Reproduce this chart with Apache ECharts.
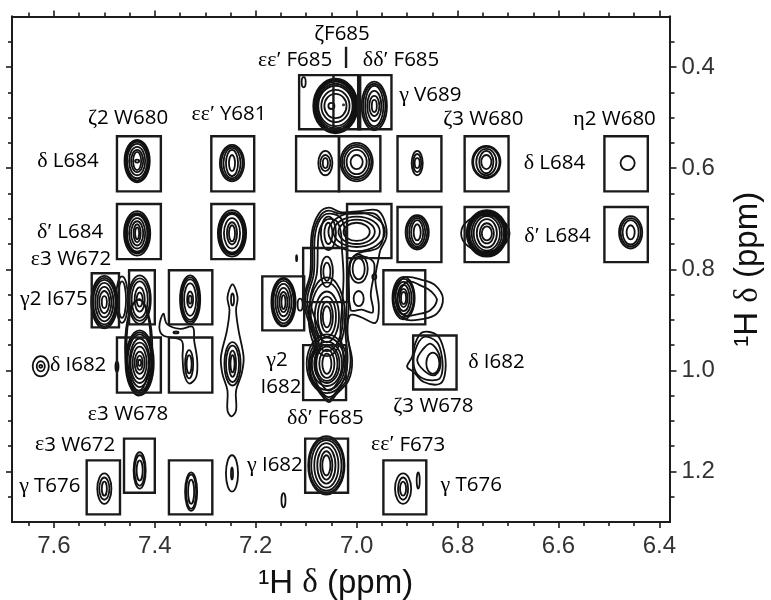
<!DOCTYPE html>
<html><head><meta charset="utf-8">
<style>html,body{margin:0;padding:0;background:#fff}#c{width:771px;height:600px}</style>
<script src="https://cdn.jsdelivr.net/npm/echarts@6/dist/echarts.min.js"></script>
</head><body><div id="c"></div>
<script>
const xMajor=[7.6,7.4,7.2,7.0,6.8,6.6,6.4];
const xMinor=[7.65,7.55,7.5,7.45,7.35,7.3,7.25,7.15,7.1,7.05,6.95,6.9,6.85,6.75,6.7,6.65,6.55,6.5,6.45];
const yMajor=[0.4,0.6,0.8,1.0,1.2];
const yMinor=[0.35,0.45,0.5,0.55,0.65,0.7,0.75,0.85,0.9,0.95,1.05,1.1,1.15,1.25];

// peak contours: [x ppm, y ppm, half-width ppm, half-height ppm]
const peakContours=[
[7.435,.586,.025,.042],[7.435,.586,.023,.040],[7.435,.586,.022,.038],[7.435,.586,.020,.034],[7.435,.586,.016,.028],[7.435,.586,.012,.022],[7.435,.586,.008,.018],[7.435,.586,.004,.003],
[7.247,.590,.024,.036],[7.247,.590,.021,.033],[7.247,.590,.017,.030],[7.247,.590,.012,.026],[7.247,.590,.006,.016],
[7.062,.590,.014,.024],[7.062,.590,.010,.016],[7.062,.590,.005,.010],
[7.000,.588,.032,.038],[7.000,.588,.029,.034],[7.000,.588,.025,.030],[7.000,.588,.020,.024],[7.000,.588,.012,.014],
[7.435,.729,.026,.044],[7.435,.729,.024,.040],[7.435,.729,.022,.038],[7.435,.729,.020,.036],[7.435,.729,.016,.030],[7.435,.729,.012,.024],[7.435,.729,.007,.018],[7.435,.729,.004,.012],
[7.247,.729,.028,.046],[7.247,.729,.026,.042],[7.247,.729,.024,.040],[7.247,.729,.022,.038],[7.247,.729,.016,.030],[7.247,.729,.010,.022],[7.247,.729,.006,.016],
[7.042,.477,.044,.054],[7.042,.477,.042,.052],[7.042,.477,.040,.050],[7.042,.477,.038,.048],[7.042,.477,.036,.044],[7.042,.477,.034,.040],[7.042,.477,.028,.032],[7.042,.477,.022,.024],
[7.050,.477,.006,.006],[7.026,.475,.001,.001],
[6.965,.477,.025,.048],[6.965,.477,.022,.044],[6.965,.477,.018,.040],[6.965,.477,.014,.030],[6.965,.477,.010,.020],[6.965,.477,.005,.012],
[7.105,.430,.004,.010],
[6.880,.590,.011,.024],[6.880,.590,.008,.018],[6.880,.590,.005,.010],
[6.743,.588,.028,.032],[6.743,.588,.026,.030],[6.743,.588,.020,.026],[6.743,.588,.014,.022],[6.743,.588,.010,.014],
[6.463,.590,.014,.014],
[6.880,.727,.023,.034],[6.880,.727,.020,.031],[6.880,.727,.016,.028],[6.880,.727,.012,.024],[6.880,.727,.007,.016],
[6.745,.729,.048,.036],[6.742,.729,.040,.046],[6.742,.729,.038,.044],[6.742,.729,.036,.042],[6.742,.729,.034,.040],[6.742,.729,.030,.038],[6.742,.729,.026,.034],[6.742,.729,.020,.028],[6.742,.729,.014,.020],[6.742,.729,.010,.014],
[6.457,.727,.023,.032],[6.457,.727,.020,.028],[6.457,.727,.016,.024],[6.457,.727,.008,.014],
[7.500,.865,.026,.052],[7.500,.865,.024,.048],[7.500,.865,.022,.044],[7.500,.865,.018,.038],[7.500,.865,.014,.030],[7.500,.865,.010,.022],[7.500,.865,.005,.012],
[7.465,.860,.012,.046],[7.465,.860,.008,.036],
[7.430,.860,.022,.048],[7.430,.860,.020,.042],[7.430,.860,.016,.036],[7.430,.860,.010,.024],[7.430,.860,.006,.014],[7.430,.860,.001,.001],
[7.330,.860,.020,.048],[7.330,.860,.018,.044],[7.330,.860,.016,.040],[7.330,.860,.012,.032],[7.330,.860,.006,.016],[7.330,.860,.003,.008],
[7.432,.955,.027,.095],[7.432,.950,.024,.090],
[7.430,.985,.028,.064],[7.430,.985,.026,.060],[7.430,.985,.024,.056],[7.430,.985,.020,.048],[7.430,.985,.018,.040],[7.430,.985,.014,.032],[7.430,.985,.010,.022],[7.430,.985,.006,.014],[7.430,.985,.003,.006],
[7.475,.993,.003,.010],
[7.626,.992,.016,.020],[7.626,.992,.008,.010],[7.626,.992,.003,.003],
[7.332,.988,.008,.028],[7.332,.988,.005,.018],[7.358,.925,.005,.002],
[7.246,.987,.016,.043],[7.246,.987,.013,.036],[7.246,.987,.007,.026],[7.246,.987,.004,.017],[7.246,.860,.003,.012],
[7.145,.865,.024,.048],[7.145,.865,.022,.046],[7.145,.865,.020,.042],[7.145,.865,.016,.036],[7.145,.865,.012,.028],[7.145,.865,.008,.020],[7.145,.865,.004,.014],
[7.112,.870,.005,.012],[7.119,.778,.001,.006],
[7.059,.987,.040,.058],[7.059,.987,.036,.052],[7.059,.987,.030,.044],[7.059,.987,.025,.038],[7.059,.987,.021,.034],[7.059,.987,.015,.028],[7.059,.987,.009,.020],
[7.059,.894,.036,.078],[7.059,.894,.032,.068],[7.059,.894,.024,.050],[7.059,.894,.018,.040],[7.059,.894,.012,.030],[7.059,.894,.008,.021],
[7.059,.805,.012,.030],[7.059,.805,.007,.018],
[7.056,.729,.015,.033],[7.056,.729,.008,.021],
[7.000,.726,.056,.038],[7.000,.726,.046,.030],[7.000,.726,.036,.024],[7.000,.726,.026,.018],
[6.996,.799,.018,.028],[6.996,.799,.012,.021],[6.996,.858,.010,.015],[6.965,.815,.004,.005],
[6.907,.857,.022,.042],[6.907,.857,.020,.038],[6.907,.857,.016,.032],[6.907,.857,.012,.026],[6.907,.857,.008,.018],[6.907,.857,.005,.012],
[6.849,.986,.013,.021],
[7.500,1.234,.014,.030],[7.500,1.234,.010,.022],[7.500,1.234,.005,.014],
[7.430,1.198,.012,.036],[7.430,1.198,.010,.030],[7.430,1.198,.006,.020],
[7.328,1.240,.012,.038],[7.328,1.240,.010,.034],[7.328,1.240,.006,.024],
[7.247,1.204,.012,.036],[7.247,1.204,.002,.012],
[7.060,1.188,.036,.058],[7.060,1.188,.034,.054],[7.060,1.188,.030,.050],[7.060,1.188,.024,.044],[7.060,1.188,.018,.036],[7.060,1.188,.012,.028],[7.060,1.188,.008,.020],
[7.145,1.257,.004,.014],
[6.908,1.234,.016,.030],[6.908,1.234,.010,.022],[6.908,1.234,.006,.014],[6.878,1.218,.003,.016]
];

// irregular contours, as [x ppm, y ppm] vertices
const centralOuter=[[7.055,.678],[7.032,.687],[6.993,.685],[6.960,.683],[6.945,.703],[6.941,.736],[6.953,.762],[6.956,.776],[6.963,.819],[6.956,.875],[6.963,.906],[6.993,.894],[7.013,.891],[7.019,.927],[7.009,.980],[7.016,1.020],[7.039,1.046],[7.055,1.063],[7.072,1.046],[7.092,1.013],[7.093,.980],[7.082,.947],[7.092,.914],[7.105,.861],[7.092,.809],[7.089,.729],[7.075,.690]];
const centralShellA=[[7.056,.684],[7.034,.690],[6.996,.690],[6.965,.690],[6.950,.708],[6.947,.736],[6.958,.758],[7.000,.770],[7.014,.790],[7.015,.860],[7.018,.925],[7.012,.980],[7.020,1.020],[7.040,1.042],[7.055,1.058],[7.074,1.040],[7.090,1.010],[7.090,.980],[7.079,.947],[7.088,.914],[7.102,.861],[7.089,.809],[7.086,.729],[7.072,.694]];
const centralShellB=[[7.065,.693],[7.039,.693],[7.026,.710],[7.020,.756],[7.018,.815],[7.020,.875],[7.022,.927],[7.018,.980],[7.026,1.020],[7.055,1.053],[7.082,1.020],[7.089,.980],[7.075,.947],[7.085,.914],[7.098,.861],[7.085,.809],[7.082,.729]];
const centralShellC=[[7.062,.703],[7.042,.703],[7.032,.723],[7.029,.762],[7.026,.815],[7.029,.875],[7.032,.927],[7.026,.980],[7.032,1.013],[7.055,1.040],[7.077,1.013],[7.082,.980],[7.069,.941],[7.079,.908],[7.092,.861],[7.079,.809],[7.075,.729]];
const rightLower=[[7.012,.785],[6.985,.775],[6.965,.790],[6.972,.850],[6.968,.885],[6.990,.880],[7.012,.880]];
const lobeOuter=[[6.907,.817],[6.867,.822],[6.844,.832],[6.829,.858],[6.841,.888],[6.867,.898],[6.907,.898],[6.927,.861]];
const lobeInner=[[6.900,.825],[6.867,.835],[6.851,.845],[6.841,.861],[6.854,.881],[6.874,.888],[6.907,.891],[6.920,.861]];
const zeta3A=[[6.870,.925],[6.841,.930],[6.827,.960],[6.824,1.0],[6.834,1.026],[6.867,1.023],[6.887,1.003],[6.900,.993],[6.890,.973],[6.884,.947]];
const zeta3B=[[6.867,.934],[6.841,.944],[6.831,.973],[6.831,1.006],[6.841,1.019],[6.874,1.013],[6.887,.990],[6.884,.960]];
const zeta3C=[[6.854,.947],[6.837,.967],[6.835,.996],[6.847,1.01],[6.867,1.0],[6.880,.98],[6.870,.96]];
const midCluster=[[7.383,.888],[7.391,.914],[7.383,.931],[7.347,.941],[7.345,.974],[7.342,1.007],[7.332,1.026],[7.318,1.013],[7.316,.980],[7.322,.941],[7.325,.914],[7.350,.918],[7.376,.908]];
const tail725=[[7.246,.830],[7.236,.855],[7.239,.881],[7.234,.921],[7.224,.974],[7.228,1.007],[7.239,1.040],[7.239,1.079],[7.248,1.091],[7.256,1.079],[7.256,1.040],[7.266,1.007],[7.269,.974],[7.257,.921],[7.252,.881],[7.256,.855]];
const tracedContours=[centralOuter,centralShellA,centralShellB,centralShellC,rightLower,lobeOuter,lobeInner,zeta3A,zeta3B,zeta3C,midCluster,tail725];

// assignment boxes: [x1, y1, x2, y2] in ppm
const boxes=[
[7.475,.537,7.388,.646],[7.288,.537,7.203,.646],[7.120,.537,7.035,.646],[7.035,.537,6.953,.646],
[7.114,.416,6.993,.523],[7.046,.416,7.046,.523],[6.997,.416,6.931,.523],
[6.919,.537,6.832,.646],[6.786,.537,6.699,.646],[6.509,.537,6.423,.646],
[7.475,.671,7.388,.780],[7.288,.671,7.203,.780],[7.019,.671,6.931,.778],[6.919,.677,6.832,.786],[6.786,.677,6.699,.786],[6.509,.677,6.423,.786],
[7.106,.758,7.019,.865],[7.187,.814,7.104,.921],[6.947,.802,6.864,.909],[7.525,.808,7.471,.915],[7.451,.802,7.400,.909],[7.372,.802,7.286,.909],
[6.888,.931,6.802,1.038],[7.475,.935,7.388,1.044],[7.372,.935,7.286,1.044],[7.106,.950,7.021,1.059],
[7.461,1.135,7.400,1.242],[7.535,1.178,7.469,1.285],[7.372,1.178,7.286,1.285],[7.102,1.135,7.017,1.242],[6.947,1.178,6.862,1.285],
[7.021,.360,7.021,.402]
];

// labels: [text, x ppm, y ppm]
const peakLabels=[
["{t|ζF685}",7.029,.335],["{g|εε′} {t|F685}",7.122,.386],["{g|δδ′} {t|F685}",6.912,.386],["{g|γ} {t|V689}",6.854,.455],
["{g|ζ}{t|2 W680}",7.453,.501],["{g|εε′} {t|Y681}",7.253,.493],["{g|ζ}{t|3 W680}",6.749,.503],["{g|η}{t|2 W680}",6.489,.503],
["{g|δ} {t|L684}",7.572,.586],["{g|δ} {t|L684}",6.608,.590],["{g|δ′} {t|L684}",7.568,.727],["{g|δ′} {t|L684}",6.602,.735],
["{g|ε}{t|3 W672}",7.566,.780],["{g|γ}{t|2 I675}",7.600,.859],["{g|δ} {t|I682}",7.552,.990],
["{g|γ}{t|2}",7.158,.980],["{t|I682}",7.150,1.034],["{g|δ} {t|I682}",6.723,.984],
["{g|ε}{t|3 W678}",7.453,1.087],["{g|ζ}{t|3 W678}",6.848,1.071],["{g|δδ′} {t|F685}",7.062,1.095],
["{g|ε}{t|3 W672}",7.558,1.147],["{g|εε′} {t|F673}",6.898,1.147],["{g|γ} {t|T676}",7.608,1.230],["{g|γ} {t|T676}",6.773,1.228],["{g|γ} {t|I682}",7.162,1.188]
];

const INK='#1c1c1c';
const richText={
  t:{fontFamily:'"Open Sans"',fontSize:20.5,color:'#222'},
  g:{fontFamily:'"Liberation Serif"',fontSize:22,color:'#222'}
};
const titleRich={
  a:{fontFamily:'"Liberation Sans"',fontSize:33,color:'#111'},
  s:{fontFamily:'"Liberation Serif"',fontSize:33,color:'#111'}
};
const titleText='{a|¹H} {s|δ} {a|(ppm)}';
const xRange={min:6.38,max:7.683,inverse:true,type:'value'};
const yRange={min:0.3,max:1.3,inverse:true,type:'value'};
const lineStyle={color:INK,width:2};
function axis(range,position,values,len,labelled,extra){
  return Object.assign({},range,{
    position,splitLine:{show:false},
    axisLine:{show:true,lineStyle,onZero:false},
    axisTick:{show:true,length:len,lineStyle:{color:INK,width:1.6},customValues:values},
    axisLabel:labelled?{show:true,customValues:values,color:'#333',fontSize:24,fontFamily:'"Liberation Sans"',margin:12,formatter:v=>v.toFixed(1)}:{show:false}
  },extra||{});
}
const chart=echarts.init(document.getElementById('c'),null,{renderer:'canvas'});
chart.setOption({
  animation:false,backgroundColor:'#fff',
  grid:{left:12,top:16.5,right:101.5,bottom:78,containLabel:false,outerBoundsMode:'none'},
  xAxis:[
    axis(xRange,'bottom',xMajor,6,true,{name:titleText,nameLocation:'middle',nameGap:45,nameTextStyle:{fontSize:33,padding:[0,10,0,0],rich:titleRich}}),
    axis(xRange,'bottom',xMinor,4,false),
    axis(xRange,'top',xMajor,6,false),
    axis(xRange,'top',xMinor,4,false)
  ],
  yAxis:[
    axis(yRange,'right',yMajor,7,true,{name:titleText,nameLocation:'middle',nameGap:62,nameRotate:90,nameTextStyle:{fontSize:33,rich:titleRich}}),
    axis(yRange,'right',yMinor,5,false),
    axis(yRange,'left',yMajor,6,false),
    axis(yRange,'left',yMinor,4,false)
  ],
  series:[
    {type:'custom',silent:true,clip:false,z:2,data:peakContours,
     encode:{x:0,y:1},
     renderItem(p,api){
       const c=api.coord([api.value(0),api.value(1)]);
       const s=api.size([api.value(2),api.value(3)]);
       return {type:'ellipse',shape:{cx:c[0],cy:c[1],rx:s[0],ry:s[1]},style:{fill:'none',stroke:'#111',lineWidth:1.8}};
     }},
    {type:'custom',silent:true,clip:false,z:2,data:tracedContours.map((_,i)=>[i]),
     renderItem(p,api){
       const pts=tracedContours[p.dataIndex].map(q=>api.coord(q));
       return {type:'polygon',shape:{points:pts,smooth:0.35},style:{fill:'none',stroke:'#111',lineWidth:1.8}};
     }},
    {type:'custom',silent:true,clip:false,z:3,data:boxes,
     renderItem(p,api){
       const a=api.coord([api.value(0),api.value(1)]);
       const b=api.coord([api.value(2),api.value(3)]);
       return {type:'rect',shape:{x:a[0],y:a[1],width:b[0]-a[0],height:b[1]-a[1]},style:{fill:'none',stroke:'#1a1a1a',lineWidth:2.4}};
     }},
    {type:'custom',silent:true,clip:false,z:4,data:peakLabels.map(l=>[l[1],l[2]]),
     renderItem(p,api){
       const c=api.coord([api.value(0),api.value(1)]);
       return {type:'text',x:c[0],y:c[1],style:{text:peakLabels[p.dataIndex][0],rich:richText,fontSize:20,fontFamily:'"Open Sans"',align:'center',verticalAlign:'middle'}};
     }}
  ]
});
</script></body></html>
